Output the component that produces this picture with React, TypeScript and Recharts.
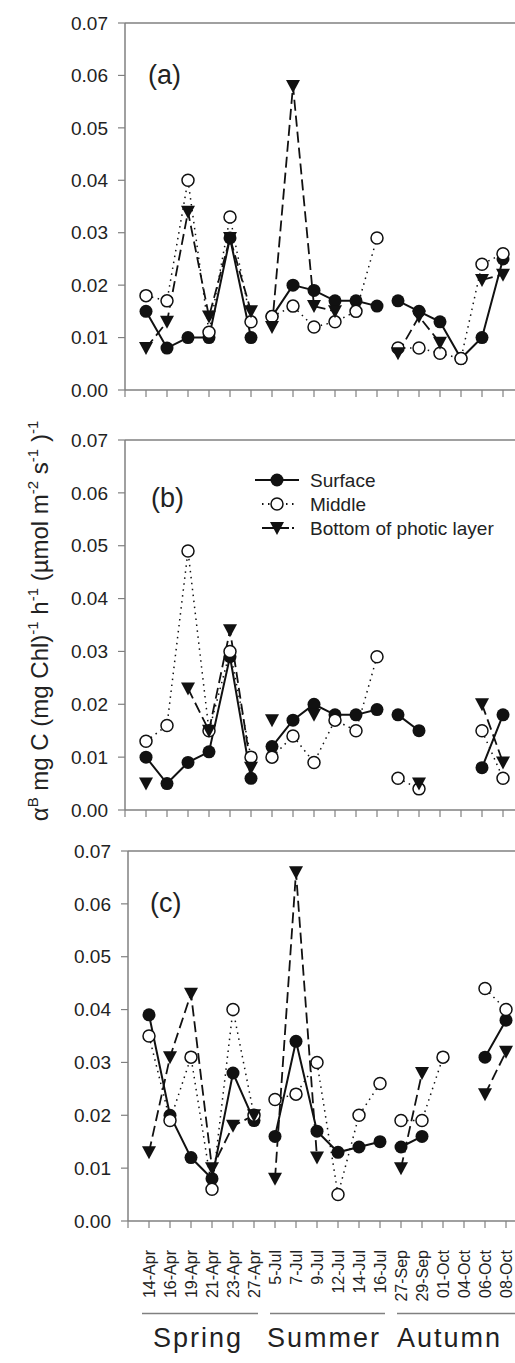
import React from 'react';
import { LineChart, Line, XAxis, YAxis, ReferenceLine } from 'recharts';

const dates = [
  '14-Apr', '16-Apr', '19-Apr', '21-Apr', '23-Apr', '27-Apr',
  '5-Jul', '7-Jul', '9-Jul', '12-Jul', '14-Jul', '16-Jul',
  '27-Sep', '29-Sep', '01-Oct', '04-Oct', '06-Oct', '08-Oct',
];
// lines are not joined across seasons
const seasonBreaks = [5.5, 11.5];
const seasons = ['Spring', 'Summer', 'Autumn'];

const yTicks = [0, 0.01, 0.02, 0.03, 0.04, 0.05, 0.06, 0.07];
const xTicks = [-1, 0, 1, 2, 3, 4, 5, 6, 7, 8, 9, 10, 11, 12, 13, 14, 15, 16, 17];

// (a)
const surfaceA = [0.015, 0.008, 0.010, 0.010, 0.029, 0.010, 0.014, 0.020, 0.019, 0.017, 0.017, 0.016, 0.017, 0.015, 0.013, 0.006, 0.010, 0.025];
const middleA = [0.018, 0.017, 0.040, 0.011, 0.033, 0.013, 0.014, 0.016, 0.012, 0.013, 0.015, 0.029, 0.008, 0.008, 0.007, 0.006, 0.024, 0.026];
const bottomA = [0.008, 0.013, 0.034, 0.014, 0.029, 0.015, 0.012, 0.058, 0.016, 0.015, null, null, 0.007, 0.014, 0.009, null, 0.021, 0.022];
// (b)
const surfaceB = [0.010, 0.005, 0.009, 0.011, 0.029, 0.006, 0.012, 0.017, 0.020, 0.018, 0.018, 0.019, 0.018, 0.015, null, null, 0.008, 0.018];
const middleB = [0.013, 0.016, 0.049, 0.015, 0.030, 0.010, 0.010, 0.014, 0.009, 0.017, 0.015, 0.029, 0.006, 0.004, null, null, 0.015, 0.006];
const bottomB = [0.005, null, 0.023, 0.015, 0.034, 0.008, 0.017, null, 0.018, null, null, null, null, 0.005, null, null, 0.020, 0.009];
// (c)
const surfaceC = [0.039, 0.020, 0.012, 0.008, 0.028, 0.019, 0.016, 0.034, 0.017, 0.013, 0.014, 0.015, 0.014, 0.016, null, null, 0.031, 0.038];
const middleC = [0.035, 0.019, 0.031, 0.006, 0.040, 0.020, 0.023, 0.024, 0.030, 0.005, 0.020, 0.026, 0.019, 0.019, 0.031, null, 0.044, 0.040];
const bottomC = [0.013, 0.031, 0.043, 0.010, 0.018, 0.020, 0.008, 0.066, 0.012, null, null, null, 0.010, 0.028, null, null, 0.024, 0.032];

const INK = '#111';
const AXIS = '#808080';

const buildRows = (s: (number | null)[], m: (number | null)[], b: (number | null)[]) => {
  const rows: any[] = [];
  dates.forEach((_, i) => {
    rows.push({ x: i, surface: s[i], middle: m[i], bottom: b[i] });
    if (seasonBreaks.includes(i + 0.5)) rows.push({ x: i + 0.5, surface: null, middle: null, bottom: null });
  });
  return rows;
};

const filled = (cx: number, cy: number) => <circle cx={cx} cy={cy} r={6.5} fill={INK} />;
const open = (cx: number, cy: number) => (
  <circle cx={cx} cy={cy} r={6} fill="#fff" stroke={INK} strokeWidth={1.5} />
);
const tri = (cx: number, cy: number) => (
  <path d={`M${cx - 7},${cy - 6}L${cx + 7},${cy - 6}L${cx},${cy + 7}Z`} fill={INK} />
);

const dotOf = (shape: (cx: number, cy: number) => React.ReactElement) => (p: any) => {
  if (p.cy == null || p.value == null || p.payload == null) return <g key={p.key ?? p.index} />;
  return <g key={p.key ?? p.index}>{shape(p.cx, p.cy)}</g>;
};

const DateTick = (p: any) => {
  const label = dates[p.payload.value];
  if (!label) return <g />;
  return (
    <text
      x={p.x}
      y={p.y}
      transform={`rotate(-90 ${p.x} ${p.y})`}
      textAnchor="end"
      dy="0.35em"
      fontSize={16}
      fill="#222"
    >
      {label}
    </text>
  );
};

interface PanelProps {
  rows: any[];
  top: number;
  left: number;
  marginTop: number;
  plotH: number;
  xHeight: number;
  labels?: boolean;
}

const Panel: React.FC<PanelProps> = ({ rows, top, left, marginTop, plotH, xHeight, labels }) => (
  <div style={{ position: 'absolute', top, left }}>
    <LineChart
      width={545}
      height={marginTop + plotH + xHeight}
      data={rows}
      margin={{ top: marginTop, right: 0, bottom: 0, left: 0 }}
    >
      <XAxis
        type="number"
        dataKey="x"
        domain={[-1, 19]}
        ticks={xTicks}
        interval={0}
        allowDataOverflow
        height={xHeight}
        tickSize={7}
        tickMargin={labels ? 22 : 2}
        axisLine={{ stroke: AXIS, strokeWidth: 1.5 }}
        tickLine={{ stroke: AXIS, strokeWidth: 1.2 }}
        tick={labels ? (p: any) => <DateTick {...p} /> : () => <g />}
      />
      <YAxis
        type="number"
        domain={[0, 0.07]}
        ticks={yTicks}
        interval={0}
        width={125}
        tickSize={7}
        tickMargin={10}
        tickFormatter={(v: number) => v.toFixed(2)}
        tick={{ fontSize: 19, fill: '#222' }}
        axisLine={{ stroke: AXIS, strokeWidth: 1.5 }}
        tickLine={{ stroke: AXIS, strokeWidth: 1.2 }}
      />
      <ReferenceLine y={0.07} stroke={AXIS} strokeWidth={1.5} />
      <Line type="linear" dataKey="surface" name="Surface" stroke={INK} strokeWidth={2}
        dot={dotOf(filled)} activeDot={false} isAnimationActive={false} />
      <Line type="linear" dataKey="middle" name="Middle" stroke={INK} strokeWidth={1.5} strokeDasharray="1.5 4.5"
        dot={dotOf(open)} activeDot={false} isAnimationActive={false} />
      <Line type="linear" dataKey="bottom" name="Bottom of photic layer" stroke={INK} strokeWidth={1.8} strokeDasharray="11 5"
        dot={dotOf(tri)} activeDot={false} isAnimationActive={false} />
    </LineChart>
  </div>
);

const legendItems = [
  { name: 'Surface', dash: undefined, shape: filled, y: 480 },
  { name: 'Middle', dash: '1.5 4.5', shape: open, y: 504 },
  { name: 'Bottom of photic layer', dash: '12 3', shape: tri, y: 528 },
];

const seasonSpans = [
  { x1: 142, x2: 258, tx: 153 },
  { x1: 270, x2: 385, tx: 267 },
  { x1: 397, x2: 515, tx: 397 },
];

export default function App() {
  return (
    <div
      style={{
        position: 'absolute',
        left: 0,
        top: 0,
        width: 515,
        height: 1363,
        overflow: 'hidden',
        background: '#fff',
        fontFamily: "'Liberation Sans', Arial, sans-serif",
      }}
    >
      <Panel rows={buildRows(surfaceA, middleA, bottomA)} top={0} left={0} marginTop={23} plotH={367} xHeight={10} />
      <Panel rows={buildRows(surfaceB, middleB, bottomB)} top={430} left={0} marginTop={10} plotH={370} xHeight={10} />
      <Panel rows={buildRows(surfaceC, middleC, bottomC)} top={840} left={2.5} marginTop={11} plotH={370} xHeight={95} labels />

      <svg width={515} height={1363} style={{ position: 'absolute', left: 0, top: 0, pointerEvents: 'none' }}>
        <text x={148} y={84} fontSize={27} fill="#222">(a)</text>
        <text x={151} y={507} fontSize={27} fill="#222">(b)</text>
        <text x={150} y={912} fontSize={27} fill="#222">(c)</text>

        {legendItems.map((it) => (
          <g key={it.name}>
            <line x1={it.dash ? 262 : 255} x2={it.dash ? 294 : 299} y1={it.y} y2={it.y}
              stroke={INK} strokeWidth={1.8} strokeDasharray={it.dash} />
            {it.shape(277, it.y)}
            <text x={310} y={it.y + 7} fontSize={19} fill="#222">{it.name}</text>
          </g>
        ))}

        <text transform="translate(48,621) rotate(-90)" textAnchor="middle" fontSize={24} fill="#222">
          α<tspan dy={-10} fontSize={15}>B</tspan>
          <tspan dy={10}> mg C (mg Chl)</tspan>
          <tspan dy={-10} fontSize={15}>-1</tspan>
          <tspan dy={10}> h</tspan>
          <tspan dy={-10} fontSize={15}>-1</tspan>
          <tspan dy={10}> (µmol m</tspan>
          <tspan dy={-10} fontSize={15}>-2</tspan>
          <tspan dy={10}> s</tspan>
          <tspan dy={-10} fontSize={15}>-1</tspan>
          <tspan dy={10}> )</tspan>
          <tspan dy={-10} fontSize={15}>-1</tspan>
        </text>

        {seasonSpans.map((s, i) => (
          <g key={seasons[i]}>
            <line x1={s.x1} x2={s.x2} y1={1313.5} y2={1313.5} stroke={AXIS} strokeWidth={1.5} />
            <text x={s.tx} y={1347} fontSize={27} letterSpacing={2} fill="#222">{seasons[i]}</text>
          </g>
        ))}
      </svg>
    </div>
  );
}
